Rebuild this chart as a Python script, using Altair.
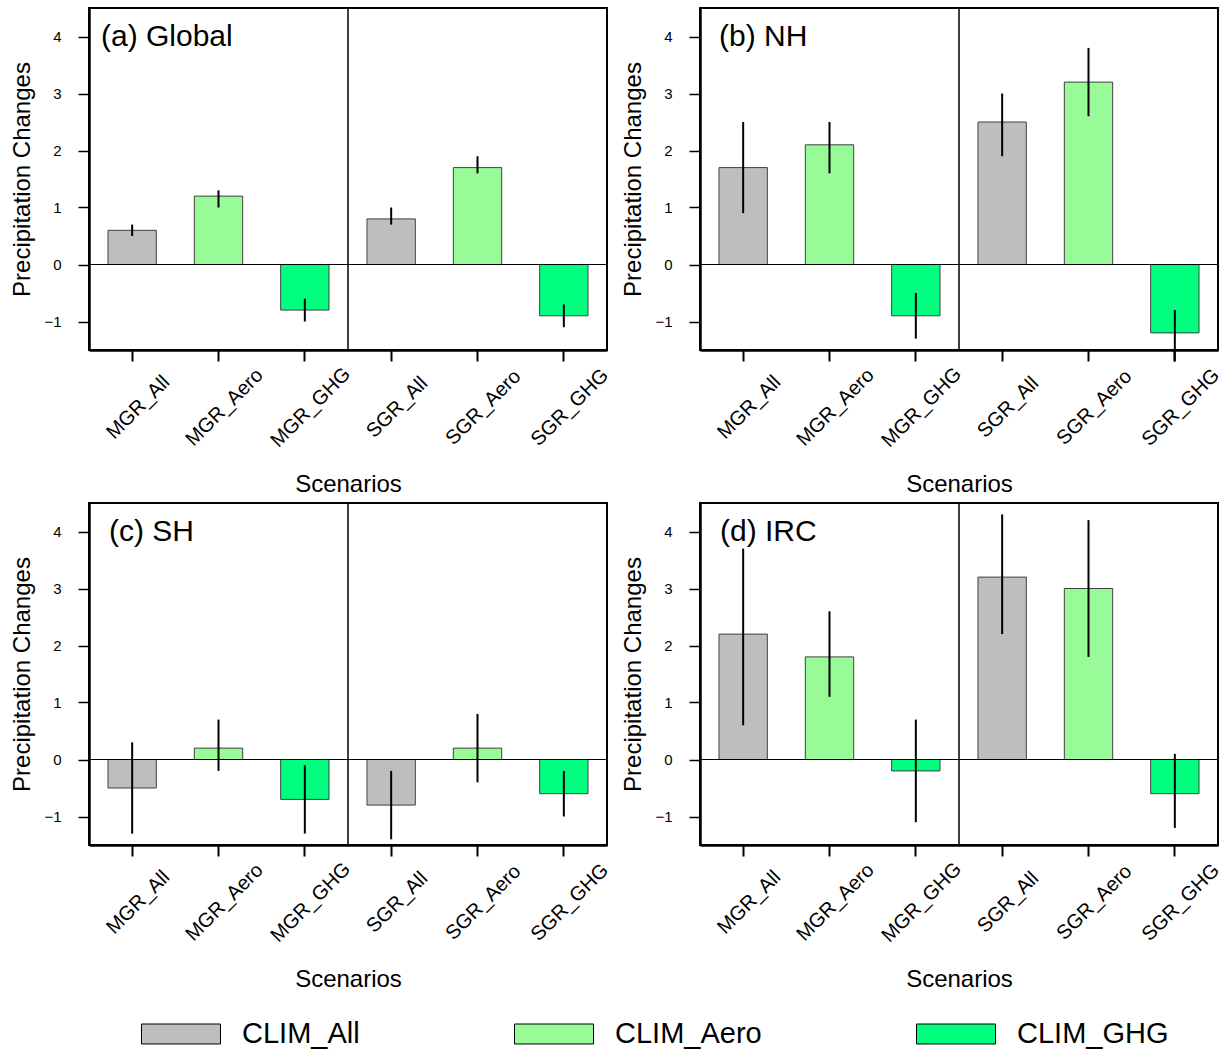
import altair as alt
import pandas as pd

# ---------------- data ----------------
scenarios = ["MGR_All", "MGR_Aero", "MGR_GHG", "SGR_All", "SGR_Aero", "SGR_GHG"]
forcing = ["CLIM_All", "CLIM_Aero", "CLIM_GHG", "CLIM_All", "CLIM_Aero", "CLIM_GHG"]
legend_names = ["CLIM_All", "CLIM_Aero", "CLIM_GHG"]
legend_colors = ["#BEBEBE", "#98FB98", "#00FF7F"]
panel_titles = ["(a) Global", "(b) NH", "(c) SH", "(d) IRC"]
y_ticks = [-1, 0, 1, 2, 3, 4]

global_mean = [0.6, 1.2, -0.8, 0.8, 1.7, -0.9]
global_lo = [0.5, 1.0, -1.0, 0.7, 1.6, -1.1]
global_hi = [0.7, 1.3, -0.6, 1.0, 1.9, -0.7]

nh_mean = [1.7, 2.1, -0.9, 2.5, 3.2, -1.2]
nh_lo = [0.9, 1.6, -1.3, 1.9, 2.6, -1.7]
nh_hi = [2.5, 2.5, -0.5, 3.0, 3.8, -0.8]

sh_mean = [-0.5, 0.2, -0.7, -0.8, 0.2, -0.6]
sh_lo = [-1.3, -0.2, -1.3, -1.4, -0.4, -1.0]
sh_hi = [0.3, 0.7, -0.1, -0.2, 0.8, -0.2]

irc_mean = [2.2, 1.8, -0.2, 3.2, 3.0, -0.6]
irc_lo = [0.6, 1.1, -1.1, 2.2, 1.8, -1.2]
irc_hi = [3.7, 2.6, 0.7, 4.3, 4.2, 0.1]

W, H = 518, 342
FONT = "Liberation Sans"
label_x = [12, 19, 20, 20]


def panel(title, mean, lo, hi, lx):
    df = pd.DataFrame({"scenario": scenarios, "forcing": forcing,
                       "mean": mean, "lo": lo, "hi": hi})
    base = alt.Chart(df)
    xenc = alt.X("scenario:N", sort=scenarios,
                 scale=alt.Scale(domain=scenarios, paddingInner=0.44, paddingOuter=0.22),
                 axis=alt.Axis(title="Scenarios", labelAngle=-45, labelAlign="center",
                               labelBaseline="middle", labelFontSize=20, labelPadding=46,
                               labelOffset=6, tickSize=11, tickWidth=2,
                               titleFontSize=24, titlePadding=22))
    yscale = alt.Scale(domain=[-1.5, 4.5], nice=False, zero=False)
    bars = base.mark_bar(stroke="#404040", strokeWidth=1).encode(
        x=xenc,
        y=alt.Y("mean:Q", scale=yscale,
                axis=alt.Axis(title="Precipitation Changes", values=y_ticks, format="d",
                              grid=False, tickSize=11, tickWidth=1.5, labelFontSize=15,
                              labelPadding=17, titleFontSize=24, titlePadding=9)),
        y2=alt.datum(0),
        color=alt.Color("forcing:N",
                        scale=alt.Scale(domain=legend_names, range=legend_colors),
                        legend=alt.Legend(orient="none", legendX=52, legendY=986,
                                          direction="horizontal", title=None,
                                          symbolType="M-1,-0.253H1V0.253H-1Z",
                                          symbolSize=6241, symbolStrokeColor="black",
                                          symbolStrokeWidth=1, symbolOpacity=1,
                                          labelFontSize=29, labelOffset=21,
                                          columnPadding=152, labelFont=FONT)),
    )
    err = base.mark_rule(color="black", strokeWidth=2).encode(
        x=alt.X("scenario:N", sort=scenarios), y="lo:Q", y2="hi:Q")
    zero = alt.Chart(pd.DataFrame({"z": [0]})).mark_rule(color="black", strokeWidth=1).encode(
        y="z:Q")
    divider = alt.Chart(pd.DataFrame({"z": [0]})).mark_rule(color="black", strokeWidth=1.5).encode(
        x=alt.value(W / 2))
    label = alt.Chart(pd.DataFrame({"t": [title]})).mark_text(
        align="left", baseline="alphabetic", fontSize=30, font=FONT, color="black").encode(
        text="t:N", x=alt.value(lx), y=alt.value(38))
    return alt.layer(bars, zero, divider, err, label).properties(width=W, height=H)


pa = panel(panel_titles[0], global_mean, global_lo, global_hi, label_x[0])
pb = panel(panel_titles[1], nh_mean, nh_lo, nh_hi, label_x[1])
pc = panel(panel_titles[2], sh_mean, sh_lo, sh_hi, label_x[2])
pd_ = panel(panel_titles[3], irc_mean, irc_lo, irc_hi, label_x[3])

chart = alt.vconcat(
    alt.hconcat(pa, pb, spacing=7),
    alt.hconcat(pc, pd_, spacing=7),
    spacing=3,
).resolve_scale(color="shared").properties(
    padding={"left": 9, "top": 6, "right": 0, "bottom": 0}
).configure_view(stroke="black", strokeWidth=2).configure_axis(
    domainColor="black", domainWidth=2.5, tickColor="black", labelColor="black",
    titleColor="black", labelFont=FONT, titleFont=FONT, titleFontWeight="normal"
).configure_legend(labelColor="black")

chart.save("out.html", embed_options={"renderer": "svg", "actions": False})
